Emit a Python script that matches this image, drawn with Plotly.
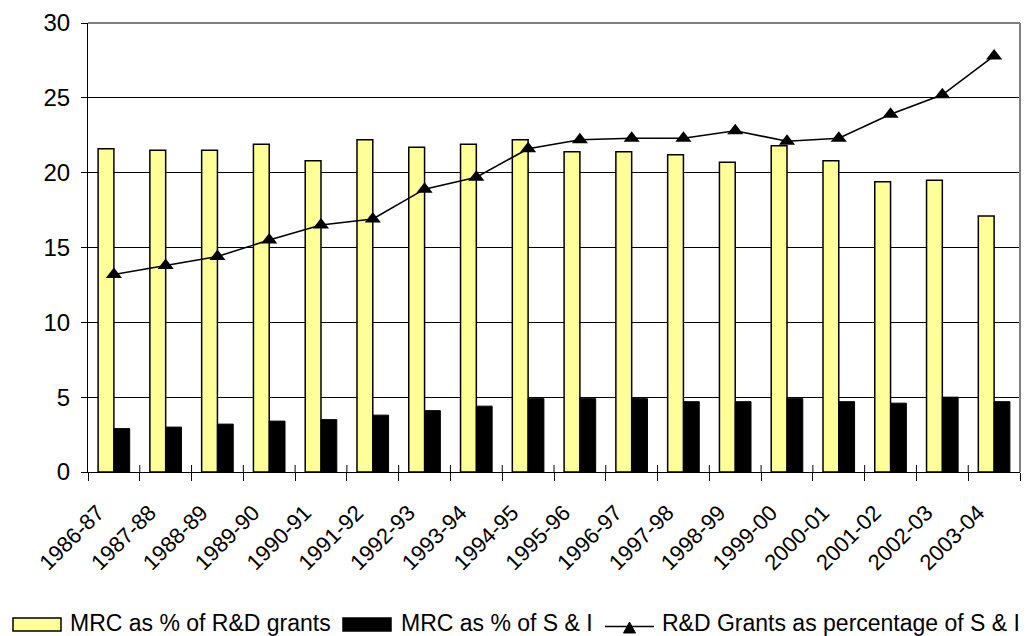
import plotly.graph_objects as go

# Financial years
years = ["1986-87", "1987-88", "1988-89", "1989-90", "1990-91", "1991-92",
         "1992-93", "1993-94", "1994-95", "1995-96", "1996-97", "1997-98",
         "1998-99", "1999-00", "2000-01", "2001-02", "2002-03", "2003-04"]

# MRC as % of R&D grants
mrc_rd = [21.6, 21.5, 21.5, 21.9, 20.8, 22.2, 21.7, 21.9, 22.2, 21.4,
          21.4, 21.2, 20.7, 21.8, 20.8, 19.4, 19.5, 17.1]

# MRC as % of S & I
mrc_si = [2.9, 3.0, 3.2, 3.4, 3.5, 3.8, 4.1, 4.4, 4.9, 4.9,
          4.9, 4.7, 4.7, 4.9, 4.7, 4.6, 5.0, 4.7]

# R&D Grants as percentage of S & I
rd_si = [13.2, 13.8, 14.4, 15.5, 16.5, 16.9, 18.9, 19.7, 21.6, 22.2,
         22.3, 22.3, 22.8, 22.1, 22.3, 23.9, 25.2, 27.8]

y_ticks = [0, 5, 10, 15, 20, 25, 30]

legend_names = ["MRC as % of R&D grants", "MRC as % of S & I",
                "R&D Grants as percentage of S & I"]

FONT = "Arial, 'Liberation Sans', sans-serif"
YELLOW = "#FFFF99"

W, H = 1029, 636
ML, MR, MT, MB = 88, 9, 23, 164
PW, PH = W - ML - MR, H - MT - MB


def px_x(px):
    return (px - ML) / PW


def px_y(py):
    return (H - MB - py) / PH


fig = go.Figure()
fig.add_trace(go.Bar(x=years, y=mrc_rd, name=legend_names[0],
                     marker=dict(color=YELLOW, line=dict(color="black", width=1.5))))
fig.add_trace(go.Bar(x=years, y=mrc_si, name=legend_names[1],
                     marker=dict(color="black", line=dict(color="black", width=1))))
fig.add_trace(go.Scatter(x=years, y=rd_si, name=legend_names[2], mode="lines+markers",
                         line=dict(color="black", width=1.6),
                         marker=dict(symbol="triangle-up", size=14, color="black")))

shapes = [
    # grey plot-area frame on top and right
    dict(type="line", xref="paper", yref="paper", x0=0, x1=1, y0=1, y1=1,
         line=dict(color="#808080", width=2), layer="above"),
    dict(type="line", xref="paper", yref="paper", x0=1, x1=1, y0=0, y1=1,
         line=dict(color="#808080", width=2), layer="above"),
]

# category-boundary ticks continue a little inside the plot area
for i in range(1, len(years)):
    shapes.append(dict(type="line", xref="x", yref="paper",
                       x0=i - 0.5, x1=i - 0.5, y0=0, y1=7 / PH,
                       line=dict(color="black", width=1), layer="above"))

annotations = []
LEG_SIZE = 23
LEG_MID = 623

# legend keys drawn below the axis labels
key_y0, key_y1 = 618, 631
for left, fill, label_x, name in [(13, YELLOW, 68, legend_names[0]),
                                  (343, "black", 399, legend_names[1])]:
    shapes.append(dict(type="rect", xref="paper", yref="paper",
                       x0=px_x(left), x1=px_x(left + 48),
                       y0=px_y(key_y1), y1=px_y(key_y0),
                       fillcolor=fill, line=dict(color="black", width=1.5)))
    annotations.append(dict(text=name, xref="paper", yref="paper",
                            x=px_x(label_x), y=px_y(LEG_MID),
                            xanchor="left", yanchor="middle", showarrow=False,
                            font=dict(family=FONT, size=LEG_SIZE, color="black")))

shapes.append(dict(type="line", xref="paper", yref="paper",
                   x0=px_x(605), x1=px_x(654), y0=px_y(626.5), y1=px_y(626.5),
                   line=dict(color="black", width=1.5)))
tri = "M {:.5f},{:.5f} L {:.5f},{:.5f} L {:.5f},{:.5f} Z".format(
    px_x(623.5), px_y(633), px_x(635.5), px_y(633), px_x(629.5), px_y(622))
shapes.append(dict(type="path", xref="paper", yref="paper", path=tri,
                   fillcolor="black", line=dict(color="black", width=1)))
annotations.append(dict(text=legend_names[2], xref="paper", yref="paper",
                        x=px_x(660), y=px_y(LEG_MID),
                        xanchor="left", yanchor="middle", showarrow=False,
                        font=dict(family=FONT, size=LEG_SIZE, color="black")))

fig.update_layout(
    width=W, height=H,
    margin=dict(l=ML, r=MR, t=MT, b=MB, pad=0),
    paper_bgcolor="white", plot_bgcolor="white",
    barmode="group", bargap=0.39, bargroupgap=0,
    showlegend=False,
    font=dict(family=FONT, size=22, color="black"),
    shapes=shapes, annotations=annotations,
)
fig.update_xaxes(
    type="category", range=[-0.5, len(years) - 0.5],
    showline=True, linecolor="black", linewidth=1.2,
    ticks="outside", ticklen=8, tickcolor="black", tickwidth=1,
    tickson="boundaries", tickangle=-45, showgrid=False,
    tickfont=dict(family=FONT, size=22, color="black"),
    ticklabelstandoff=18, ticklabelshift=-16,
    automargin=False,
)
fig.update_yaxes(
    range=[0, 30], tickvals=y_ticks,
    showline=True, linecolor="black", linewidth=1.2,
    ticks="outside", ticklen=6, tickcolor="black", tickwidth=1,
    showgrid=True, gridcolor="black", gridwidth=1, zeroline=False,
    tickfont=dict(family=FONT, size=24, color="black"),
    ticklabelstandoff=6, automargin=False,
)

fig.write_html("out.html")
